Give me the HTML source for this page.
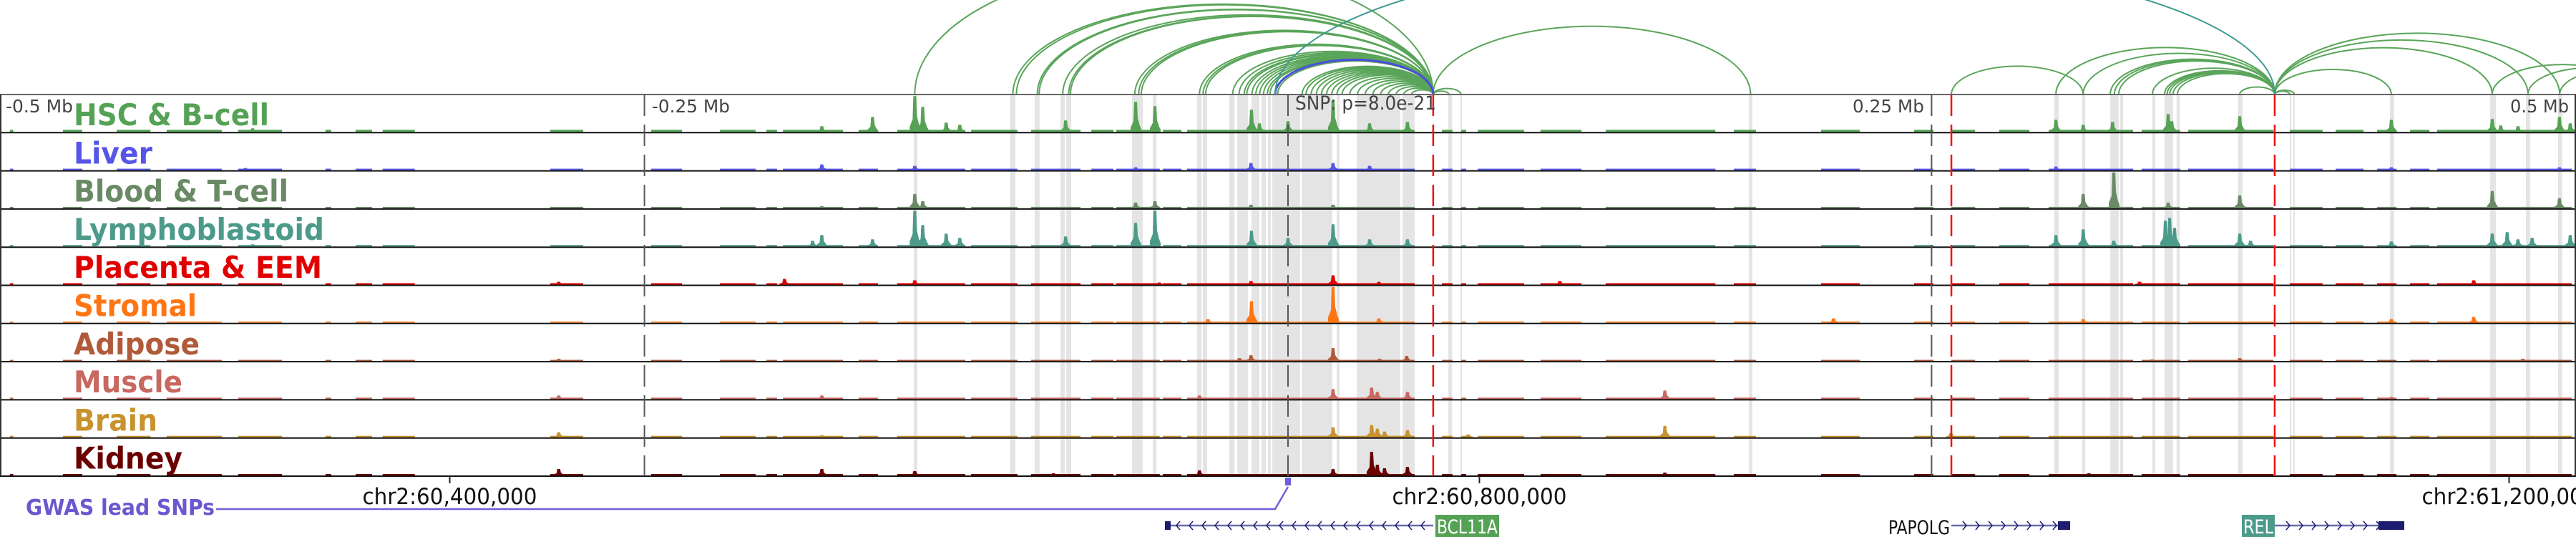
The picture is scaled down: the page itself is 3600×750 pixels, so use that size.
<!DOCTYPE html>
<html><head><meta charset="utf-8"><style>
html,body{margin:0;padding:0;background:#fff;}
svg{display:block;}
</style></head><body>
<svg id="fig" width="3600" height="750" viewBox="0 0 3600 750" xmlns="http://www.w3.org/2000/svg">
<g id="bands"></g>
<g id="arcs"></g>
<g id="signals"></g>
<g id="lines"></g>
<g id="labels"></g>
<g id="bottom"></g>
</svg>
<script>
// ---- data (positions in kb relative to lead SNP at chr2:60,725,640) ----
const trackNames = ["HSC & B-cell","Liver","Blood & T-cell","Lymphoblastoid","Placenta & EEM","Stromal","Adipose","Muscle","Brain","Kidney"];
const trackColors = ["#55a255","#5555e8","#6a8a66","#4c9a8a","#e00000","#ff7514","#b05a3a","#c86860","#c8922c","#6a0000"];
const labelWidths = [273,110,300,350,347,172,176,152,117,152];
const bgLevels = [3,2,2,2,2,1.5,1.5,2,2,2];
const bgSegments = [[-496.5,-495.2],[-475.9,-468.4],[-455,-441.9],[-435.6,-414.2],[-407.8,-390.8],[-373.9,-371.7],[-362.2,-355.8],[-351.7,-339.2],[-286.6,-273.8],[-247.4,-235.4],[-220.7,-206.8],[-202.6,-198.5],[-196.2,-172.9],[-166.8,-159.3],[-151.8,-125.4],[-123.1,-105.1],[-99.8,-80.6],[-76.4,-67.8],[-66.7,-49.8],[-48.6,-41.4],[-39.2,49.2],[59.8,63.9],[67.3,69.2],[73.7,91.7],[98.1,114],[123.4,166],[173.2,181.8],[207.1,222.1],[243.2,250.7],[257.7,266.9],[276.3,288],[295.5,328.3],[331.6,346.6],[349.7,382.8],[389.2,401.9],[407,417.8],[423.1,430.6],[435.9,443.4],[446.4,498.7]];
const peaksHSC = [[-161.4,21],[-145,50],[-141.9,35],[-132.8,13],[-127.5,10],[-86.4,16],[-59.2,42],[-51.7,36],[-14.2,31],[-11.1,12],[0,15],[17.5,44],[31.7,12],[46.4,14],[-181.1,8],[-402.2,5],[298.3,17],[308.9,10],[320.3,14],[341.9,25],[343.3,15],[369.7,22],[428.6,17],[467.8,18],[471.1,9],[477.8,8],[493.9,21],[498.1,12]];
const peaksLiver = [[-145,6],[-14.4,10],[17.5,10],[31.7,6],[-181.1,8],[-59.2,4],[298.3,5],[428.6,4],[493.9,4],[-405,3]];
const peaksBlood = [[-145,20],[-141.9,10],[-59.2,8],[-51.7,10],[-14.4,5],[17.5,5],[308.9,20],[320.8,50],[341.9,8],[369.7,18],[467.8,24],[493.9,14],[-181.1,3]];
const peaksLympho = [[-161.4,10],[-145,50],[-141.9,30],[-132.8,18],[-127.5,12],[-86.4,14],[-59.2,33],[-51.7,50],[-14.2,22],[0,12],[17.5,31],[31.7,10],[46.4,10],[-181.1,16],[-184.7,8],[298.3,16],[308.9,24],[320.8,8],[340.8,36],[342.5,40],[344.4,26],[369.7,18],[373.9,8],[428.6,7],[467.8,18],[473.6,20],[477.8,10],[483.3,12],[498.1,16],[-402.2,3]];
const peaksPlacenta = [[-145,6],[17.5,13],[-14.4,5],[35.3,4],[-50,3],[105.6,5],[460.6,6],[330.8,4],[-195.6,8],[-283.3,4]];
const peaksStromal = [[-14.2,30],[17.5,50],[-31.1,5],[35.3,6],[308.9,5],[211.9,6],[460.6,8],[428.6,5]];
const peaksAdipose = [[-14.4,8],[17.5,18],[-18.9,4],[46.1,7],[35.6,3],[335.6,2],[369.7,4],[479.7,3],[-283.3,3]];
const peaksMuscle = [[17.5,14],[32.5,16],[34.7,10],[46.4,10],[-34.4,5],[146.4,12],[428.6,3],[-181.1,5],[-283.3,5]];
const peaksBrain = [[17.5,14],[32.5,17],[34.7,12],[37.5,8],[46.4,10],[146.4,16],[70,4],[-283.3,7],[-181.1,3],[257.5,6]];
const peaksKidney = [[32.5,33],[34.7,15],[37.5,10],[46.4,12],[-34.4,7],[17.5,9],[-145,6],[-91.1,3],[-181.1,9],[-283.3,9],[146.4,4],[311.1,3]];
const trackPeaks = [peaksHSC,peaksLiver,peaksBlood,peaksLympho,peaksPlacenta,peaksStromal,peaksAdipose,peaksMuscle,peaksBrain,peaksKidney];
const bandRanges = [[-145.4,-144],[-107.9,-105.9],[-98.4,-96.5],[-88.4,-86.7],[-86.2,-84.2],[-60.6,-56.4],[-52.5,-51.1],[-35.3,-33.6],[-33.1,-31.4],[-22.8,-20.8],[-19.7,-15.6],[-14.2,-11.1],[-10.3,-8.6],[-7.8,-6.7],[-6.1,4.7],[5.3,17.2],[18.9,20],[26.7,43.6],[44.5,49.2],[62.3,63.7],[67,67.5],[179,180.4],[297.7,299.4],[308.5,309.7],[319.4,322.7],[323.3,324.4],[335.8,336.9],[340.5,343.8],[345.2,346.4],[369.1,370.8],[389.2,389.7],[390.5,391.1],[428.1,429.7],[467,469.2],[480.9,482.6],[493.4,495]];
const redLines = [56.4,257.7,383.3];
const mbTicks = [-500,-250,250,500];
const mbLabels = ["-0.5 Mb","-0.25 Mb","0.25 Mb","0.5 Mb"];
const chrTicks = [-325.64,74.36,474.36];
const chrLabels = ["chr2:60,400,000","chr2:60,800,000","chr2:61,200,000"];
const hubLeft = 56.4;
const hubLeftPartners = [-145,-106.9,-105.5,-97.4,-96.7,-87.5,-85.2,-84.5,-59.5,-58,-57,-34.4,-33,-32,-21.5,-19,-17,-16,-14,-12.5,-11,-9.5,-8,-7,-4,5.5,7,9,11,13,15,17,19,21,24,27,30,33,36,39,42,45,48,62.5,67.2,179.7];
const hubRight = 383.3;
const hubRightPartners = [298.3,308.9,319.4,321,322.7,335.8,340.5,341.5,342.5,343.8,345.5,369.7,389.2,391,428.6,467.8,481.7,494];
const extraArcs = [[257.7,308.9],[467.8,522],[494,540],[481.7,530]];
const blueArc = [-5,56.4];
const tealArc = [-5,383.3,0.283];

// ---- scales ----
const PX_PER_KB = 3.5975, CENTER = 1800;
const x = kb => CENTER + kb*PX_PER_KB;
const TOP = 132, TH = 53.3;
const base = i => TOP + TH*(i+1);
const NS = "http://www.w3.org/2000/svg";
function mk(tag, parent){ const e=document.createElementNS(NS,tag); parent.appendChild(e); return e; }
const G = id => document.getElementById(id);

// bands
bandRanges.forEach(b=>{
  const r=mk('rect',G('bands'));
  
  
  r.setAttribute('x',x(b[0])); r.setAttribute('y',TOP);
  r.setAttribute('width',Math.max(2,x(b[1])-x(b[0]))); r.setAttribute('height',base(9)-TOP);
  r.setAttribute('fill','#e4e4e4');
});

// arcs
function arc(a,b,ratio,color,w,name){
  const x1=x(a),x2=x(b),hs=Math.abs(x2-x1)/2,h=hs*ratio;
  const p=mk('path',G('arcs'));
  
  
  p.setAttribute('d',`M${x1},${TOP} A${hs},${h} 0 0 1 ${x2},${TOP}`);
  p.setAttribute('fill','none'); p.setAttribute('stroke',color); p.setAttribute('stroke-width',w);
}
hubLeftPartners.forEach(k=>arc(Math.min(k,hubLeft),Math.max(k,hubLeft),k<-140?0.5:0.43,'#5aa55a',2,'interaction-arc'));
hubRightPartners.forEach(k=>arc(Math.min(k,hubRight),Math.max(k,hubRight),0.43,'#5aa55a',2,'interaction-arc'));
extraArcs.forEach(a=>arc(a[0],a[1],0.43,'#5aa55a',2,'interaction-arc'));
arc(blueArc[0],blueArc[1],0.44,'#4b4be0',3,'snp-interaction-arc');
arc(tealArc[0],tealArc[1],tealArc[2],'#3f9a90',2,'long-range-arc');

// signals
trackPeaks.forEach((peaks,i)=>{
  const g=mk('g',G('signals'));
  
  
  g.setAttribute('fill',trackColors[i]);
  const by=base(i)-1;
  bgSegments.forEach(s=>{
    const r=mk('rect',g);
    
    
    r.setAttribute('x',x(s[0])); r.setAttribute('y',by-bgLevels[i]);
    r.setAttribute('width',Math.max(2,x(s[1])-x(s[0]))); r.setAttribute('height',bgLevels[i]);
  });
  peaks.forEach(p=>{
    const c=x(p[0]),h=Math.min(p[1],TH-3);
    const pts=[[c-7,by],[c-7,by-0.15*h],[c-3,by-0.35*h],[c-2,by-h],[c+2,by-h],[c+3,by-0.45*h],[c+6,by-0.2*h],[c+8,by-0.1*h],[c+8,by]];
    const pg=mk('polygon',g);
    
    
    pg.setAttribute('points',pts.map(q=>q.join(',')).join(' '));
  });
});

// lines
const L=G('lines');
function line(x1,y1,x2,y2,stroke,w,dash,name){
  const l=mk('line',L);
  
  
  l.setAttribute('x1',x1);l.setAttribute('y1',y1);l.setAttribute('x2',x2);l.setAttribute('y2',y2);
  l.setAttribute('stroke',stroke);l.setAttribute('stroke-width',w);
  if(dash) l.setAttribute('stroke-dasharray',dash);
}
line(0,TOP,3600,TOP,'#666',2,null,'top-border');
for(let i=0;i<10;i++) line(0,base(i),3600,base(i),'#111',2,null,'track-baseline');
line(1,TOP,1,base(9),'#333',2,null,'left-border');
line(3599,TOP,3599,base(9),'#333',2,null,'right-border');
mbTicks.forEach(k=>{ if(x(k)>5&&x(k)<3595) line(x(k),TOP,x(k),base(9),'#555',2,'30 12','mb-gridline'); });
line(x(0),TOP,x(0),base(9),'#555',2,'30 12','snp-line');
redLines.forEach(k=>line(x(k),TOP,x(k),base(9),'#ee1111',2.5,'30 12','boundary-line'));

// labels
const LB=G('labels');
function text(t,xx,yy,size,color,weight,anchor,tl,name,parent){
  const e=mk('text',parent||LB);
  
  
  e.setAttribute('x',xx);e.setAttribute('y',yy);
  e.setAttribute('font-family','"DejaVu Sans Condensed","DejaVu Sans","Liberation Sans",sans-serif');
  e.setAttribute('font-size',size);e.setAttribute('fill',color);
  if(weight) e.setAttribute('font-weight',weight);
  if(anchor) e.setAttribute('text-anchor',anchor);
  if(tl){e.setAttribute('textLength',tl);e.setAttribute('lengthAdjust','spacingAndGlyphs');}
  e.textContent=t; return e;
}
trackNames.forEach((n,i)=>text(n,103,TOP+TH*i+43,42,trackColors[i],'bold',null,labelWidths[i],'track-label'));
const mbX=[8,911,2589,3508], mbW=[94,109,100,82];
mbLabels.forEach((m,i)=>text(m,mbX[i],157,25,'#444',null,null,mbW[i],'mb-label'));
text('SNP: p=8.0e-21',1810,153,27,'#444',null,null,197,'snp-label');

// bottom
const B=G('bottom');
chrTicks.forEach((k,i)=>{
  line(x(k),base(9),x(k),base(9)+10,'#222',2,null,'axis-tick');
  text(chrLabels[i],x(k),704,31,'#111',null,'middle',244,'axis-label',B);
});
text('GWAS lead SNPs',36,719,30,'#6a58d0','bold',null,264,'gwas-label',B);
const snpPath=mk('path',B);


snpPath.setAttribute('d',`M302,711 L${x(0)-18},711 L${x(0)},680`);
snpPath.setAttribute('fill','none');snpPath.setAttribute('stroke','#6f60d8');snpPath.setAttribute('stroke-width',2.5);
const snpMark=mk('rect',B);


snpMark.setAttribute('x',x(0)-4);snpMark.setAttribute('y',667);snpMark.setAttribute('width',8);snpMark.setAttribute('height',11);snpMark.setAttribute('fill','#6f60d8');

function gene(name,x1,x2,dir,boxX,labelBox,labelX,labelW){
  const g=mk('g',B);
  
  
  const l=mk('line',g);
  
  
  l.setAttribute('x1',x1);l.setAttribute('x2',x2);l.setAttribute('y1',734);l.setAttribute('y2',734);
  l.setAttribute('stroke','#6a6aaa');l.setAttribute('stroke-width',2.5);
  for(let xx=x1+16;xx<x2-8;xx+=18){
    const c=mk('path',g);
    
    
    c.setAttribute('d',dir<0?`M${xx+5},728 L${xx},734 L${xx+5},740`:`M${xx},728 L${xx+5},734 L${xx},740`);
    c.setAttribute('fill','none');c.setAttribute('stroke','#1c1c70');c.setAttribute('stroke-width',1.5);
  }
  const bx=mk('rect',g);
  
  
  bx.setAttribute('x',boxX[0]);bx.setAttribute('y',728);bx.setAttribute('width',boxX[1]-boxX[0]);bx.setAttribute('height',12);bx.setAttribute('fill','#1c1c70');
  if(labelBox){
    const r=mk('rect',g);
    
    
    r.setAttribute('x',labelX);r.setAttribute('y',719);r.setAttribute('width',labelW);r.setAttribute('height',31);r.setAttribute('fill',labelBox);
    text(name,labelX+2,745,27,'#fff',null,null,labelW-4,'gene-label',g);
  } else {
    text(name,labelX,746,27,'#111',null,null,labelW,'gene-label',g);
  }
}
gene('BCL11A',1628,2003,-1,[1628,1636],'#55a255',2006,89);
gene('PAPOLG',2727,2893,1,[2876,2893],null,2639,86);
gene('REL',3179,3360,1,[3324,3360],'#4c9a8a',3133,46);
</script>
</body></html>
